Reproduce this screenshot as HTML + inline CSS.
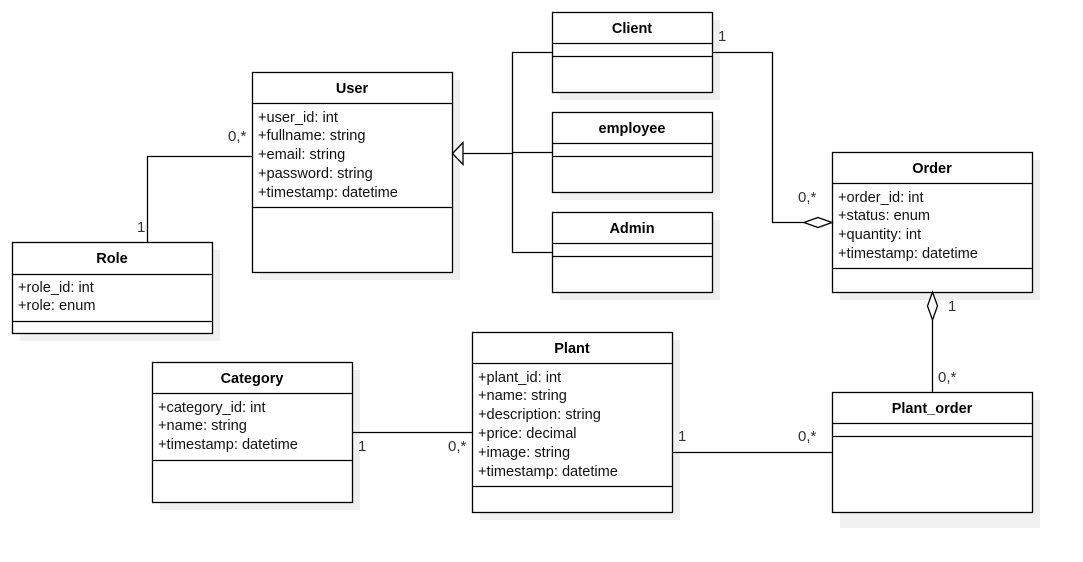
<!DOCTYPE html>
<html><head><meta charset="utf-8"><style>body{margin:0;background:#fff}svg{display:block}</style></head><body>
<svg width="1083" height="562" xmlns="http://www.w3.org/2000/svg" font-family="Liberation Sans, Arial, sans-serif" font-size="14">
<g fill="#f0f0f0">
<rect x="260" y="80" width="200" height="200"/><rect x="20" y="250" width="200" height="91"/>
<rect x="560" y="20" width="160" height="80"/><rect x="560" y="120" width="160" height="80"/><rect x="560" y="220" width="160" height="80"/>
<rect x="840" y="160" width="200" height="140"/><rect x="480" y="340" width="200" height="180"/>
<rect x="160" y="370" width="200" height="140"/><rect x="840" y="400" width="200" height="128"/>
</g>
<g fill="#fff" stroke="#000" stroke-width="1.3">
<rect x="252.5" y="72.5" width="200" height="200"/><line x1="252" y1="103.5" x2="452" y2="103.5"/><line x1="252" y1="207.5" x2="452" y2="207.5"/>
<rect x="12.5" y="242.5" width="200" height="91"/><line x1="12" y1="274.5" x2="212" y2="274.5"/><line x1="12" y1="321.5" x2="212" y2="321.5"/>
<rect x="552.5" y="12.5" width="160" height="80"/><line x1="552" y1="43.5" x2="712" y2="43.5"/><line x1="552" y1="56.5" x2="712" y2="56.5"/>
<rect x="552.5" y="112.5" width="160" height="80"/><line x1="552" y1="143.5" x2="712" y2="143.5"/><line x1="552" y1="156.5" x2="712" y2="156.5"/>
<rect x="552.5" y="212.5" width="160" height="80"/><line x1="552" y1="243.5" x2="712" y2="243.5"/><line x1="552" y1="256.5" x2="712" y2="256.5"/>
<rect x="832.5" y="152.5" width="200" height="140"/><line x1="832" y1="183.5" x2="1032" y2="183.5"/><line x1="832" y1="268.5" x2="1032" y2="268.5"/>
<rect x="472.5" y="332.5" width="200" height="180"/><line x1="472" y1="363.5" x2="672" y2="363.5"/><line x1="472" y1="486.5" x2="672" y2="486.5"/>
<rect x="152.5" y="362.5" width="200" height="140"/><line x1="152" y1="393.5" x2="352" y2="393.5"/><line x1="152" y1="460.5" x2="352" y2="460.5"/>
<rect x="832.5" y="392.5" width="200" height="120"/><line x1="832" y1="423.5" x2="1032" y2="423.5"/><line x1="832" y1="436.5" x2="1032" y2="436.5"/>
</g>
<g fill="none" stroke="#000" stroke-width="1.3">
<polyline points="147.5,242 147.5,156.5 252,156.5"/>
<polyline points="463,153.5 512.5,153.5"/>
<polyline points="552,52.5 512.5,52.5 512.5,252.5 552,252.5"/>
<line x1="512" y1="152.5" x2="552" y2="152.5"/>
<polyline points="712,52.5 772.5,52.5 772.5,222.5 804,222.5"/>
<line x1="932.5" y1="320" x2="932.5" y2="392"/>
<line x1="352" y1="432.5" x2="472" y2="432.5"/>
<line x1="672" y1="452.5" x2="832" y2="452.5"/>
</g>
<g fill="#fff" stroke="#000" stroke-width="1.3">
<polygon points="452.5,153.5 463,142.5 463,164.5"/>
<polygon points="832,222.5 818,217.5 804,222.5 818,227.5"/>
<polygon points="932.5,292 927.5,306 932.5,320 937.5,306"/>
</g>
<g font-weight="bold" text-anchor="middle" font-size="14.5">
<text x="352" y="93">User</text><text x="112" y="263">Role</text><text x="632" y="33">Client</text>
<text x="632" y="133">employee</text><text x="632" y="233">Admin</text><text x="932" y="173">Order</text>
<text x="572" y="353">Plant</text><text x="252" y="383">Category</text><text x="932" y="413">Plant_order</text>
</g>
<g font-size="14.6" fill="#111">
<text x="258" y="122">+user_id: int</text><text x="258" y="140">+fullname: string</text><text x="258" y="159">+email: string</text><text x="258" y="178">+password: string</text><text x="258" y="197">+timestamp: datetime</text>
<text x="18" y="292">+role_id: int</text><text x="18" y="310">+role: enum</text>
<text x="838" y="202">+order_id: int</text><text x="838" y="220">+status: enum</text><text x="838" y="239">+quantity: int</text><text x="838" y="258">+timestamp: datetime</text>
<text x="478" y="382">+plant_id: int</text><text x="478" y="400">+name: string</text><text x="478" y="419">+description: string</text><text x="478" y="438">+price: decimal</text><text x="478" y="457">+image: string</text><text x="478" y="476">+timestamp: datetime</text>
<text x="158" y="412">+category_id: int</text><text x="158" y="430">+name: string</text><text x="158" y="449">+timestamp: datetime</text>
</g>
<g font-size="15" fill="#333">
<text x="228" y="141">0,*</text><text x="137" y="232">1</text><text x="718" y="41">1</text><text x="798" y="202">0,*</text>
<text x="948" y="311">1</text><text x="938" y="382">0,*</text><text x="358" y="451">1</text><text x="448" y="451">0,*</text>
<text x="678" y="441">1</text><text x="798" y="441">0,*</text>
</g>
</svg>
</body></html>
